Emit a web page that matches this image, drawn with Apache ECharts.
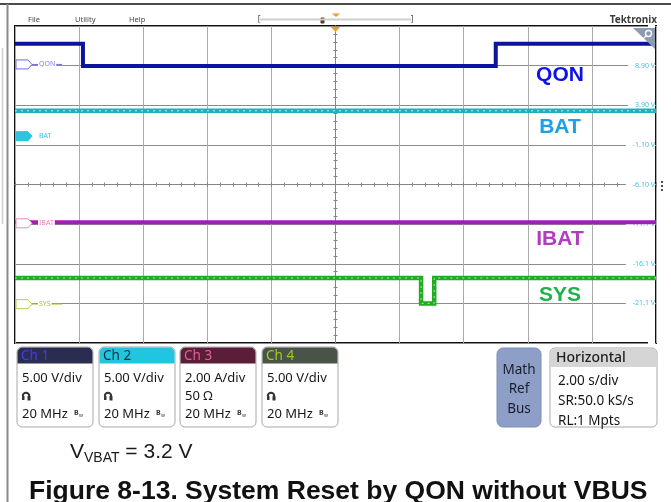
<!DOCTYPE html>
<html>
<head>
<meta charset="utf-8">
<script src="https://cdn.jsdelivr.net/npm/echarts@6/dist/echarts.min.js"></script>
<style>
html, body { margin: 0; padding: 0; background: #fff; }
#scope { width: 671px; height: 502px; }
</style>
</head>
<body>
<div id="scope"></div>
<script>
// Horizontal: 2.00 s/div over 10 divisions, trigger in the centre (seconds)
const timeRange = [-10, 10];
const timeStep = 2;

// Ch1 QON (V)
const qonTime  = [-10, -7.88, -7.88, 5.0, 5.0, 10];
const qonVolts = [2.6, 2.6, -0.2, -0.2, 2.6, 2.6];
// Ch2 BAT (V)
const batTime  = [-10, 10];
const batVolts = [3.2, 3.2];
// Ch3 IBAT (A)
const ibatTime = [-10, 10];
const ibatAmps = [0.05, 0.05];
// Ch4 SYS (V)
const sysTime  = [-10, 2.67, 2.67, 3.08, 3.08, 10];
const sysVolts = [3.3, 3.3, 0.1, 0.1, 3.3, 3.3];

// Vertical settings per channel: units per division and ground position (divisions above centre)
const channelTags      = ['C1', 'C2', 'C3', 'C4'];
const channelSignals   = ['QON', 'BAT', 'IBAT', 'SYS'];
const channelScales    = [5, 5, 2, 5];
const channelPositions = [3.03, 1.22, -0.98, -3.02];

// Graticule readout for the selected channel (Ch2), one entry per division line, bottom to top
const ch2TickLabels = ['', '-21.1 V', '-16.1 V', '-11.1 V', '-6.10 V', '-1.10 V', '3.90 V', '8.90 V', ''];

// Readout panels
const panelHeads = ['Ch 1', 'Ch 2', 'Ch 3', 'Ch 4'];
const panelScale = ['5.00 V/div', '5.00 V/div', '2.00 A/div', '5.00 V/div'];
const panelTerm  = ['probe', 'probe', '50 Ω', 'probe'];
const panelBw    = ['20 MHz', '20 MHz', '20 MHz', '20 MHz'];
const horizontalLines = ['2.00 s/div', 'SR:50.0 kS/s', 'RL:1 Mpts'];

const pairs = (xs, ys) => xs.map((x, i) => [x, ys[i]]);

const GRID = { left: 15, top: 26, width: 641, height: 317 };
const UI_FONT = '"Noto Sans", "Open Sans", sans-serif';
const DOC_FONT = '"Liberation Sans", Arial, sans-serif';

const chart = echarts.init(document.getElementById('scope'), null, { renderer: 'canvas' });

function channelAxis(i) {
  const s = channelScales[i], p = channelPositions[i];
  return { type: 'value', min: -(4 + p) * s, max: (4 - p) * s, show: false,
           axisLine: { onZero: false } };
}

function centreAxis(kind, inside) {
  const base = {
    type: 'value', show: true,
    axisLine: { show: true, onZero: false, lineStyle: { color: '#858585', width: 1 } },
    axisTick: { show: true, inside: inside, length: 2.5, lineStyle: { color: '#858585' } },
    minorTick: { show: true, splitNumber: 5, length: 2, lineStyle: { color: '#858585' } },
    axisLabel: { show: false }, splitLine: { show: false }, z: 0
  };
  if (kind === 'x') {
    return Object.assign(base, { min: timeRange[0], max: timeRange[1], interval: timeStep,
                                 position: 'bottom', offset: -GRID.height / 2 });
  }
  return Object.assign(base, { min: -4, max: 4, interval: 1, position: 'left', offset: -GRID.width / 2 });
}

function trace(xs, ys, axis, color, width, z) {
  return { type: 'line', xAxisIndex: 0, yAxisIndex: axis, data: pairs(xs, ys),
           symbol: 'none', silent: true, animation: false, z: z,
           lineStyle: { color: color, width: width, join: 'miter', cap: 'butt' } };
}
function speckle(xs, ys, axis, color, z) {
  return { type: 'line', xAxisIndex: 0, yAxisIndex: axis, data: pairs(xs, ys),
           symbol: 'none', silent: true, animation: false, z: z,
           lineStyle: { color: color, width: 1, type: [2, 4] } };
}

const option = {
  animation: false,
  backgroundColor: '#ffffff',
  grid: Object.assign({ show: true, borderColor: '#111', borderWidth: 2, backgroundColor: '#fff' }, GRID),
  xAxis: [
    { type: 'value', min: timeRange[0], max: timeRange[1], interval: timeStep, position: 'bottom',
      axisLine: { show: false, onZero: false }, axisTick: { show: false }, axisLabel: { show: false },
      splitLine: { show: true, lineStyle: { color: '#ababab', width: 1 } } },
    centreAxis('x', true),
    centreAxis('x', false)
  ],
  yAxis: [
    channelAxis(0), channelAxis(1), channelAxis(2), channelAxis(3),
    // division lines
    { type: 'value', min: -4, max: 4, interval: 1, position: 'left', z: 0,
      axisLine: { show: false, onZero: false }, axisTick: { show: false }, axisLabel: { show: false },
      splitLine: { show: true, lineStyle: { color: '#8c8c8c', width: 1 } } },
    // Ch2 graticule readout
    { type: 'value', min: -4, max: 4, interval: 1, position: 'right', z: 1,
      axisLine: { show: false, onZero: false }, axisTick: { show: false }, splitLine: { show: false },
      axisLabel: { show: true, inside: true, margin: 1, color: '#3ec3e6',
                   fontSize: 7, fontFamily: UI_FONT, backgroundColor: '#fff', padding: [1, 0, 1, 7],
                   formatter: (v, idx) => ch2TickLabels[idx] || '' } },
    centreAxis('y', true),
    centreAxis('y', false)
  ],
  series: [
    trace(batTime, batVolts, 1, '#1db2bb', 4.5, 3),
    speckle(batTime, batVolts, 1, '#c4eef1', 4),
    trace(ibatTime, ibatAmps, 2, '#a11db3', 4, 3),
    trace(sysTime, sysVolts, 3, '#20ad22', 4.5, 3),
    speckle(sysTime, sysVolts, 3, '#a8e6a8', 4),
    trace(qonTime, qonVolts, 0, '#0b139f', 4, 5)
  ]
};
chart.setOption(option);

// ---------- decorations drawn around the graticule ----------
const els = [];
function txt(x, y, text, font, fill, align, valign, extra) {
  els.push({ type: 'text', x: x, y: y, z: 20,
    style: Object.assign({ text: text, font: font, fill: fill, align: align || 'left',
                           verticalAlign: valign || 'middle' }, extra || {}) });
}
function rect(x, y, w, h, r, fill, stroke, lw) {
  els.push({ type: 'rect', z: 18, shape: { x: x, y: y, width: w, height: h, r: r },
             style: { fill: fill, stroke: stroke || null, lineWidth: lw || 1 } });
}
function line(x1, y1, x2, y2, color, w, z) {
  els.push({ type: 'line', z: z || 19, shape: { x1: x1, y1: y1, x2: x2, y2: y2 },
             style: { stroke: color, lineWidth: w } });
}
function poly(points, fill, stroke, z) {
  els.push({ type: 'polygon', z: z || 19, shape: { points: points },
             style: { fill: fill, stroke: stroke || null, lineWidth: 1 } });
}

// page frame
line(0, 4, 671, 4, '#111', 1.5);
line(7.5, 4, 7.5, 502, '#8a8a8a', 2);
line(2.5, 48, 2.5, 224, '#cfcfcf', 1.5);

// menu bar
const menuFont = '7.5px ' + UI_FONT;
txt(28, 20, 'File', menuFont, '#444');
txt(75, 20, 'Utility', menuFont, '#444');
txt(129, 20, 'Help', menuFont, '#444');
line(260, 19.5, 411, 19.5, '#cfcfcf', 2);
txt(259, 19.5, '[', '8px ' + UI_FONT, '#444', 'center');
txt(412, 19.5, ']', '8px ' + UI_FONT, '#444', 'center');
rect(320.5, 17.5, 4, 6, 1, '#5b3a1a');
poly([[332, 13.5], [340, 13.5], [336, 17]], '#f29a30', null);
txt(657, 20, 'Tektronix', 'bold 10px ' + UI_FONT, '#3c3c3c', 'right');

// trigger position marker and zoom corner
const cx = chart.convertToPixel({ xAxisIndex: 0 }, 0);
poly([[cx - 4.5, 27], [cx + 4.5, 27], [cx, 32]], '#f29a30', null, 21);
poly([[633, 28], [655, 28], [655, 49]], '#8f9bb1', null, 21);
els.push({ type: 'circle', z: 22, shape: { cx: 648.5, cy: 33.5, r: 3 },
           style: { fill: null, stroke: '#fff', lineWidth: 1.3 } });
line(646.5, 35.5, 644, 38, '#fff', 1.5, 22);

// overflow dots at the right edge
[182, 186, 190].forEach(y => els.push({ type: 'circle', z: 20, shape: { cx: 662, cy: y, r: 1.1 },
                                         style: { fill: '#222' } }));

// channel ground markers
const markerStroke = ['#6a6ae6', '#2cc5de', '#f08cb8', '#b2d04a'];
const markerFill   = ['#fff', '#2cc5de', '#fff', '#fff'];
const markerText   = ['#5b5be2', '#ffffff', '#e586b0', '#9dbf2e'];
const signalText   = ['#7f7fea', '#3fc2e3', '#e57fb2', '#a6c53e'];
channelTags.forEach((tag, i) => {
  const y = chart.convertToPixel({ yAxisIndex: i }, 0);
  poly([[16, y - 4.5], [28, y - 4.5], [32, y], [28, y + 4.5], [16, y + 4.5]], markerFill[i], markerStroke[i], 21);
  txt(22, y, tag, '7px ' + UI_FONT, markerText[i], 'center');
  if (i === 0 || i === 3) {
    line(32, y, 62, y, markerStroke[i], 1, 20);
  }
  txt(38, y, channelSignals[i], '7px ' + UI_FONT, signalText[i], 'left', 'middle',
      { backgroundColor: (i === 1 ? null : '#fff'), padding: [0, 1, 0, 1] });
});

// large trace names inside the graticule
const nameColors = ['#0c12e8', '#1aa1e8', '#b23bc2', '#1fb04a'];
const nameY = [75.5, 127.5, 239.5, 295.5];
channelSignals.forEach((n, i) => txt(560, nameY[i], n, 'bold 21px ' + DOC_FONT, nameColors[i], 'center'));

// channel readout panels
const panelX = [17, 99, 180, 262];
const headFill = ['#2a2d4f', '#22c5df', '#5b1e38', '#4a5348'];
const headText = ['#3d3df2', '#0f2f38', '#e0629a', '#a4c823'];
const bodyFont = '13px ' + UI_FONT;
panelHeads.forEach((h, i) => {
  const x = panelX[i];
  rect(x, 347, 76, 80, 5, '#fff', '#a9a9a9', 1);
  rect(x + 0.5, 347.5, 75, 16, [5, 5, 0, 0], headFill[i]);
  txt(x + 4, 356, h, '13.5px ' + UI_FONT, headText[i]);
  txt(x + 5, 378.5, panelScale[i], bodyFont, '#161616');
  if (panelTerm[i] === 'probe') {
    els.push({ type: 'arc', z: 20, shape: { cx: x + 9, cy: 396, r: 3.2, startAngle: Math.PI, endAngle: 2 * Math.PI },
               style: { stroke: '#333', lineWidth: 2, fill: null } });
    rect(x + 5, 396, 2.5, 4, 0.5, '#333');
    rect(x + 10.5, 396, 3, 4.5, 0.5, '#333');
  } else {
    txt(x + 5, 396.5, panelTerm[i], bodyFont, '#161616');
  }
  txt(x + 5, 414.5, panelBw[i], bodyFont, '#161616');
  txt(x + 57, 413, 'B', 'bold 7px ' + UI_FONT, '#333');
  txt(x + 62, 415.5, 'w', '5px ' + UI_FONT, '#333');
});

// Math / Ref / Bus button
rect(497, 348, 44, 79, 6, '#8d9fc6', '#7d8fb7', 1);
['Math', 'Ref', 'Bus'].forEach((t, i) => txt(519, 370 + i * 19.5, t, '13.5px ' + UI_FONT, '#1b1d2c', 'center'));

// horizontal readout
rect(550, 348, 107, 79, 5, '#fff', '#a9a9a9', 1);
rect(550.5, 348.5, 106, 18.5, [5, 5, 0, 0], '#d5d5d5');
txt(556, 358, 'Horizontal', '500 14px ' + UI_FONT, '#1d1d1d');
horizontalLines.forEach((t, i) => txt(558, 381 + i * 20, t, '13.5px ' + UI_FONT, '#161616'));

// caption
els.push({ type: 'text', x: 70, y: 452, z: 20, style: {
  text: '{m|V}{s|VBAT}{m| = 3.2 V}', verticalAlign: 'middle', align: 'left',
  rich: { m: { font: '21px ' + DOC_FONT, fill: '#1a1a1a' },
          s: { font: '14px ' + DOC_FONT, fill: '#1a1a1a', verticalAlign: 'bottom', padding: [0, 0, -3, 0] } } } });
txt(29, 478.5, 'Figure 8-13. System Reset by QON without VBUS', 'bold 26.5px ' + DOC_FONT, '#111', 'left', 'top');

chart.setOption({ graphic: { elements: els } });
</script>
</body>
</html>
